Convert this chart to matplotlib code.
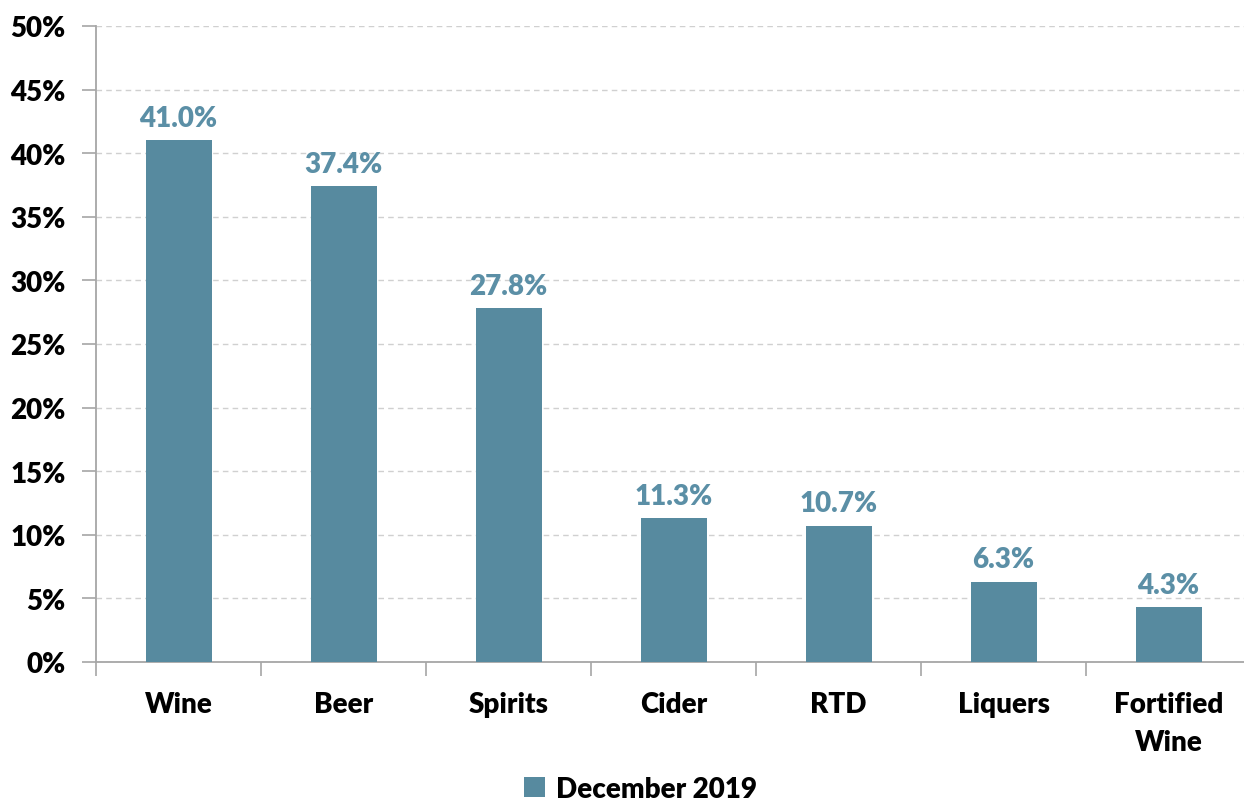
import matplotlib
matplotlib.use("Agg")
import matplotlib.pyplot as plt
import numpy as np
from matplotlib.ticker import FixedLocator, FuncFormatter

# data
categories = ["Wine", "Beer", "Spirits", "Cider", "RTD", "Liquers", "Fortified\nWine"]
shares = [41.0, 37.4, 27.8, 11.3, 10.7, 6.3, 4.3]
series_name = "December 2019"
y_ticks = [0, 5, 10, 15, 20, 25, 30, 35, 40, 45, 50]

bar_color = "#578A9F"
label_color = "#5B8FA6"
axis_gray = "#A6A6A6"

plt.rcParams["font.family"] = ["Lato", "DejaVu Sans"]
plt.rcParams["font.weight"] = "heavy"

fig = plt.figure(figsize=(12.44, 8.04), dpi=100)
ax = fig.add_axes([96 / 1244, 141 / 804, 1155 / 1244, 636 / 804])

x = np.arange(len(categories))
bars = ax.bar(x, shares, width=0.4, color=bar_color, label=series_name, zorder=3)

for xi, v in zip(x, shares):
    ax.annotate(f"{v:.1f}%", (xi, v), xytext=(0, 7), textcoords="offset points",
                ha="center", va="bottom", fontsize=20, fontweight="heavy", color=label_color)

ax.set_xlim(-0.5, len(categories) - 0.5)
ax.set_ylim(0, 50)
ax.set_yticks(y_ticks)
ax.yaxis.set_major_formatter(FuncFormatter(lambda v, _: f"{v:.0f}%"))
ax.set_xticks(x)
ax.set_xticklabels(categories, linespacing=1.55)
ax.xaxis.set_minor_locator(FixedLocator(np.arange(len(categories) + 1) - 0.5))

ax.tick_params(axis="x", which="major", length=0, pad=21, labelsize=20)
ax.tick_params(axis="x", which="minor", length=10, width=1.2, color=axis_gray)
ax.tick_params(axis="y", length=10, width=1.2, color=axis_gray, labelsize=20, pad=12)

ax.grid(axis="y", linestyle=(0, (4, 3)), color="#D0D0D0", linewidth=1, zorder=0)
for side in ["top", "right"]:
    ax.spines[side].set_visible(False)
for side in ["left", "bottom"]:
    ax.spines[side].set_color(axis_gray)
    ax.spines[side].set_linewidth(1.3)

fig.legend(handles=[bars], labels=[series_name], loc="center", bbox_to_anchor=(0.515, 0.018),
           frameon=False, fontsize=20, handlelength=0.75, handleheight=0.75, handletextpad=0.4)

fig.savefig("out.png", dpi=100)
